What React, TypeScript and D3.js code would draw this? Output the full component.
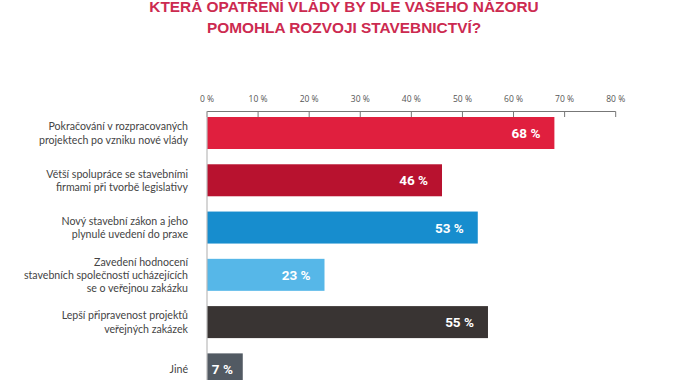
import React from "react";
import * as d3 from "d3";

const titleLines = ["KTERÁ OPATŘENÍ VLÁDY BY DLE VAŠEHO NÁZORU", "POMOHLA ROZVOJI STAVEBNICTVÍ?"];
const categories = [
  ["Pokračování v rozpracovaných", "projektech po vzniku nové vlády"],
  ["Větší spolupráce se stavebními", "firmami při tvorbě legislativy"],
  ["Nový stavební zákon a jeho", "plynulé uvedení do praxe"],
  ["Zavedení hodnocení", "stavebních společností ucházejících", "se o veřejnou zakázku"],
  ["Lepší připravenost projektů", "veřejných zakázek"],
  ["Jiné"],
];
const values = [68, 46, 53, 23, 55, 7];
const colors = ["#E01F3E", "#B8122F", "#178DCE", "#56B7E8", "#393433", "#525A63"];
const ticks = [0, 10, 20, 30, 40, 50, 60, 70, 80];

export default function App() {
  const x = d3.scaleLinear().domain([0, 80]).range([207, 615.7]);
  const y = d3
    .scaleBand<number>()
    .domain(values.map((_, i) => i))
    .range([117, 117 + 45 * 6])
    .paddingInner(13 / 45)
    .paddingOuter(0);
  const bw = 32;
  return (
    <svg width={674} height={380} style={{ position: "absolute", left: 0, top: 0, background: "#fff" }}>
      {titleLines.map((t, i) => (
        <text
          key={i}
          x={344}
          y={12 + i * 21.3}
          textAnchor="middle"
          fontFamily="Liberation Sans, Arial, sans-serif"
          fontWeight={700}
          fontSize={15.4}
          fill="#CC2A50"
        >
          {t}
        </text>
      ))}
      {ticks.map((t) => (
        <g key={t}>
          <text
            x={x(t)}
            y={102}
            textAnchor="middle"
            fontFamily="Open Sans, sans-serif"
            fontSize={8.5}
            fill="#555"
          >
            {t} %
          </text>
          <line x1={x(t)} x2={x(t)} y1={111.5} y2={117} stroke="#777" strokeWidth={1} />
        </g>
      ))}
      <line x1={x(0)} x2={x(80)} y1={111.5} y2={111.5} stroke="#777" strokeWidth={1} />
      {values.map((v, i) => {
        const y0 = y(i)!;
        const w = x(v) - x(0);
        const pad = Math.min(14, (w - 20) / 2 + 2);
        return (
          <g key={i}>
            <rect x={x(0)} y={y0} width={w} height={bw} fill={colors[i]} />
            <text
              x={x(v) - pad}
              y={y0 + bw / 2 + 5}
              textAnchor="end"
              fontFamily="Roboto, sans-serif"
              fontWeight={700}
              fontSize={13.5}
              fill="#fff"
            >
              {v} %
            </text>
            {categories[i].map((line, j) => (
              <text
                key={j}
                x={188}
                y={y0 + bw / 2 + 4 + (j - (categories[i].length - 1) / 2) * 13.3}
                textAnchor="end"
                fontFamily="Lato, sans-serif"
                fontSize={10.6}
                fill="#444"
              >
                {line}
              </text>
            ))}
          </g>
        );
      })}
      <line x1={x(0)} x2={x(0)} y1={111.5} y2={380} stroke="#bbb" strokeWidth={1.2} />
    </svg>
  );
}
